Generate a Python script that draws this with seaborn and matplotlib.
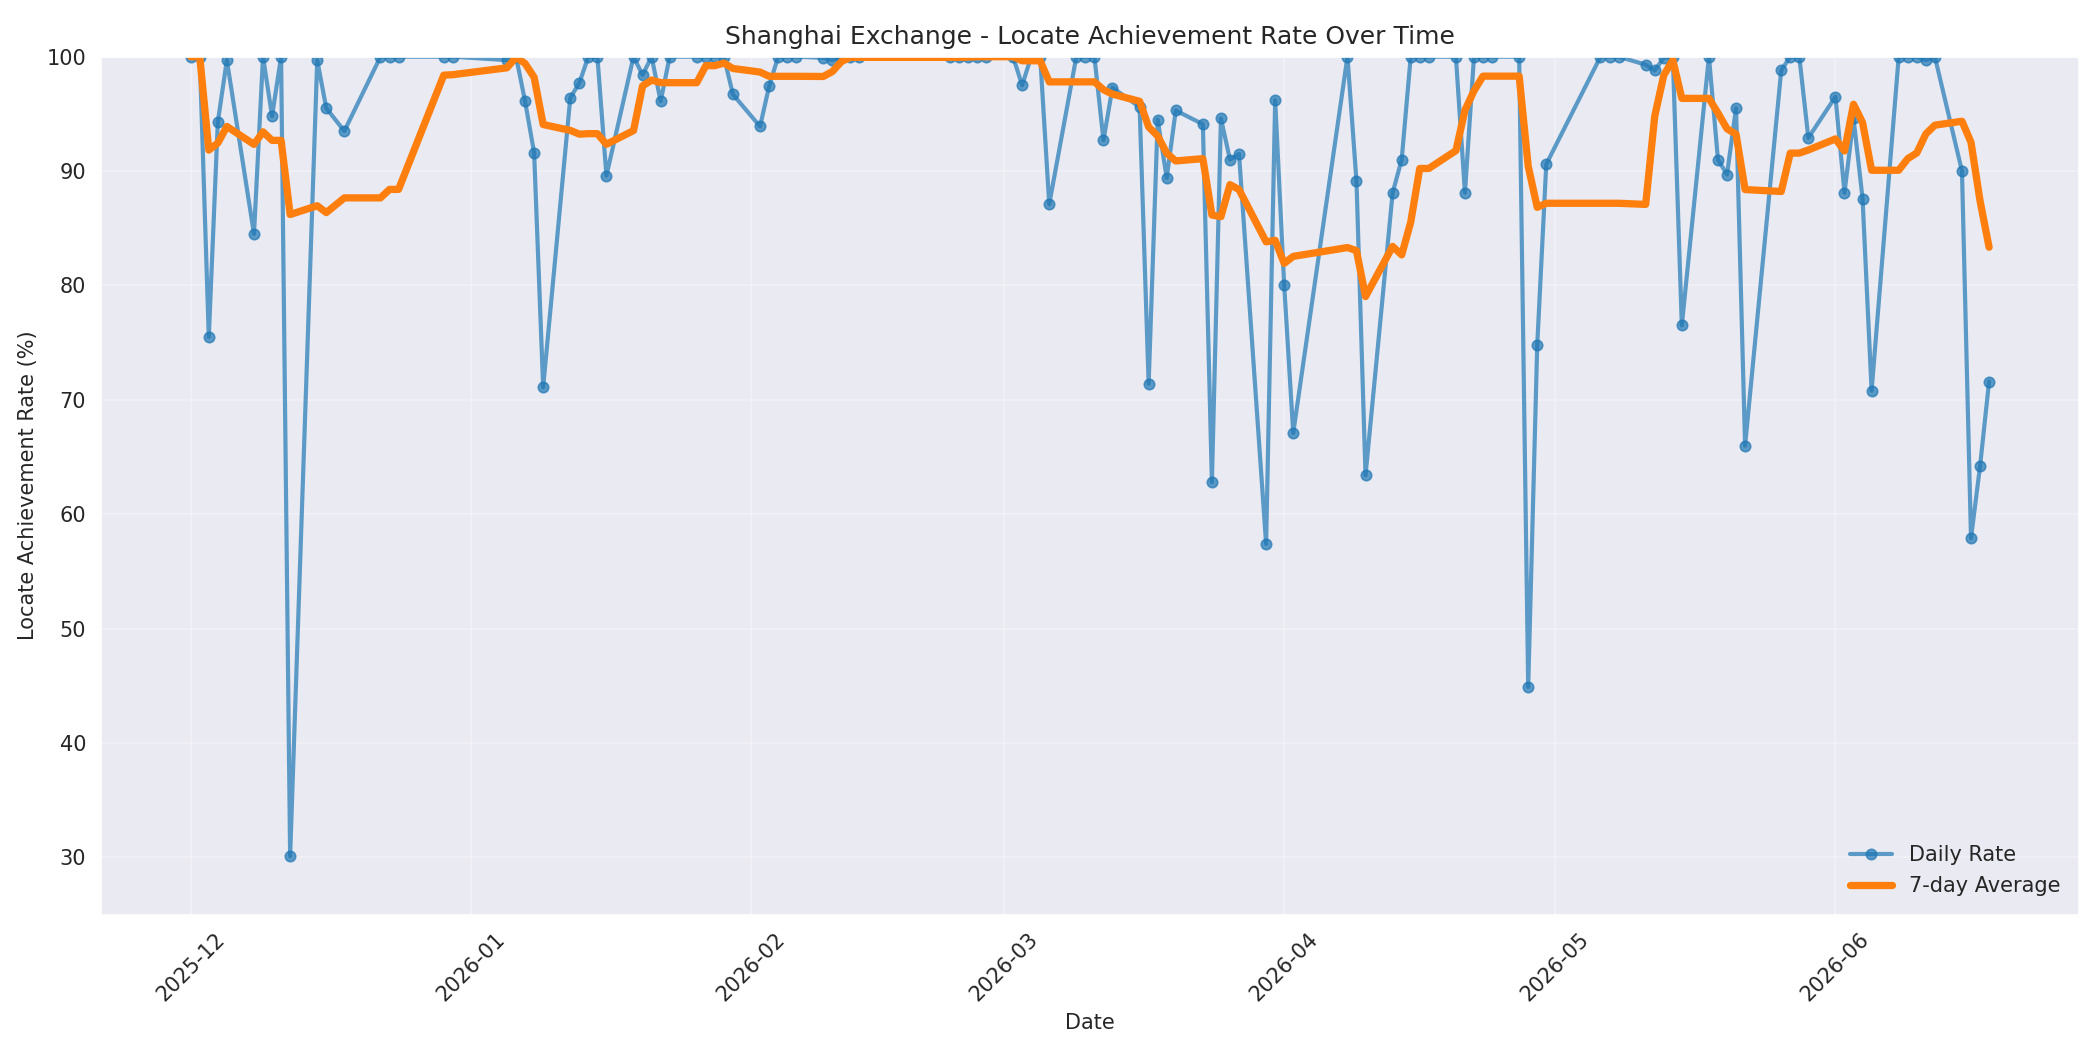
import pandas as pd
import numpy as np
import matplotlib
matplotlib.use('Agg')
import matplotlib.pyplot as plt
import matplotlib.dates as mdates
import seaborn as sns

# daily locate achievement rate (%)
dates = [
    '2025-12-01', '2025-12-02', '2025-12-03', '2025-12-04', '2025-12-05',
    '2025-12-08', '2025-12-09', '2025-12-10', '2025-12-11', '2025-12-12',
    '2025-12-15', '2025-12-16', '2025-12-18', '2025-12-22', '2025-12-23',
    '2025-12-24', '2025-12-29', '2025-12-30',
    '2026-01-05', '2026-01-06', '2026-01-07', '2026-01-08', '2026-01-09',
    '2026-01-12', '2026-01-13', '2026-01-14', '2026-01-15', '2026-01-16',
    '2026-01-19', '2026-01-20', '2026-01-21', '2026-01-22', '2026-01-23',
    '2026-01-26', '2026-01-27', '2026-01-28', '2026-01-29', '2026-01-30',
    '2026-02-02', '2026-02-03', '2026-02-04', '2026-02-05', '2026-02-06',
    '2026-02-09', '2026-02-10', '2026-02-11', '2026-02-12', '2026-02-13',
    '2026-02-23', '2026-02-24', '2026-02-25', '2026-02-26', '2026-02-27',
    '2026-03-02', '2026-03-03', '2026-03-04', '2026-03-05', '2026-03-06',
    '2026-03-09', '2026-03-10', '2026-03-11', '2026-03-12', '2026-03-13',
    '2026-03-16', '2026-03-17', '2026-03-18', '2026-03-19', '2026-03-20',
    '2026-03-23', '2026-03-24', '2026-03-25', '2026-03-26', '2026-03-27',
    '2026-03-30', '2026-03-31',
    '2026-04-01', '2026-04-02', '2026-04-08', '2026-04-09', '2026-04-10',
    '2026-04-13', '2026-04-14', '2026-04-15', '2026-04-16', '2026-04-17',
    '2026-04-20', '2026-04-21', '2026-04-22', '2026-04-23', '2026-04-24',
    '2026-04-27', '2026-04-28', '2026-04-29', '2026-04-30',
    '2026-05-06', '2026-05-07', '2026-05-08', '2026-05-11', '2026-05-12',
    '2026-05-13', '2026-05-14', '2026-05-15', '2026-05-18', '2026-05-19',
    '2026-05-20', '2026-05-21', '2026-05-22', '2026-05-26', '2026-05-27',
    '2026-05-28', '2026-05-29',
    '2026-06-01', '2026-06-02', '2026-06-03', '2026-06-04', '2026-06-05',
    '2026-06-08', '2026-06-09', '2026-06-10', '2026-06-11', '2026-06-12',
    '2026-06-15', '2026-06-16', '2026-06-17', '2026-06-18',
]
daily_rate = [
    100, 100, 75.5, 94.3, 99.7,
    84.5, 100, 94.8, 100, 30.1,
    99.7, 95.5, 93.5, 100, 100,
    100, 100, 100,
    99.7, 100, 96.1, 91.6, 71.1,
    96.4, 97.7, 100, 100, 89.6,
    100, 98.4, 100, 96.1, 100,
    100, 100, 100, 100, 96.7,
    93.9, 97.4, 100, 100, 100,
    99.9, 99.7, 100, 100, 100,
    100, 100, 100, 100, 100,
    100, 97.5, 100, 100, 87.1,
    100, 100, 100, 92.7, 97.3,
    95.6, 71.4, 94.5, 89.4, 95.3,
    94.1, 62.8, 94.6, 91.0, 91.5,
    57.4, 96.2,
    80.0, 67.1, 100, 89.1, 63.4,
    88.1, 91.0, 100, 100, 100,
    100, 88.1, 100, 100, 100,
    100, 44.9, 74.8, 90.6,
    100, 100, 100, 99.3, 98.8,
    99.9, 100, 76.5, 100, 91.0,
    89.7, 95.5, 66.0, 98.8, 100,
    100, 92.9,
    96.5, 88.1, 94.6, 87.6, 70.8,
    100, 100, 100, 99.7, 100,
    90.0, 57.9, 64.2, 71.6,
]

df = pd.DataFrame({'Date': pd.to_datetime(dates), 'Rate': daily_rate})
df['Rolling'] = df['Rate'].rolling(7, min_periods=1).mean()

sns.set_style('darkgrid')
fig, ax = plt.subplots(figsize=(14, 7), dpi=150)

sns.lineplot(data=df, x='Date', y='Rate', ax=ax, marker='o', markersize=5,
             linewidth=2, alpha=0.7, color='#1f77b4', markeredgecolor='#1f77b4',
             markeredgewidth=0.8, label='Daily Rate')
sns.lineplot(data=df, x='Date', y='Rolling', ax=ax, linewidth=3.5,
             color='#ff7f0e', label='7-day Average')

ax.set_title('Shanghai Exchange - Locate Achievement Rate Over Time', fontsize=12)
ax.set_xlabel('Date', fontsize=10)
ax.set_ylabel('Locate Achievement Rate (%)', fontsize=10)
ax.set_ylim(25, 100)
ax.xaxis.set_major_locator(mdates.MonthLocator())
ax.xaxis.set_major_formatter(mdates.DateFormatter('%Y-%m'))
plt.setp(ax.get_xticklabels(), rotation=45)
ax.tick_params(labelsize=10)
ax.grid(True, alpha=0.3)
ax.legend(loc='lower right', fontsize=10, frameon=False)

plt.subplots_adjust(left=0.048, right=0.99, top=0.946, bottom=0.129)
plt.savefig('out.png', dpi=150)
